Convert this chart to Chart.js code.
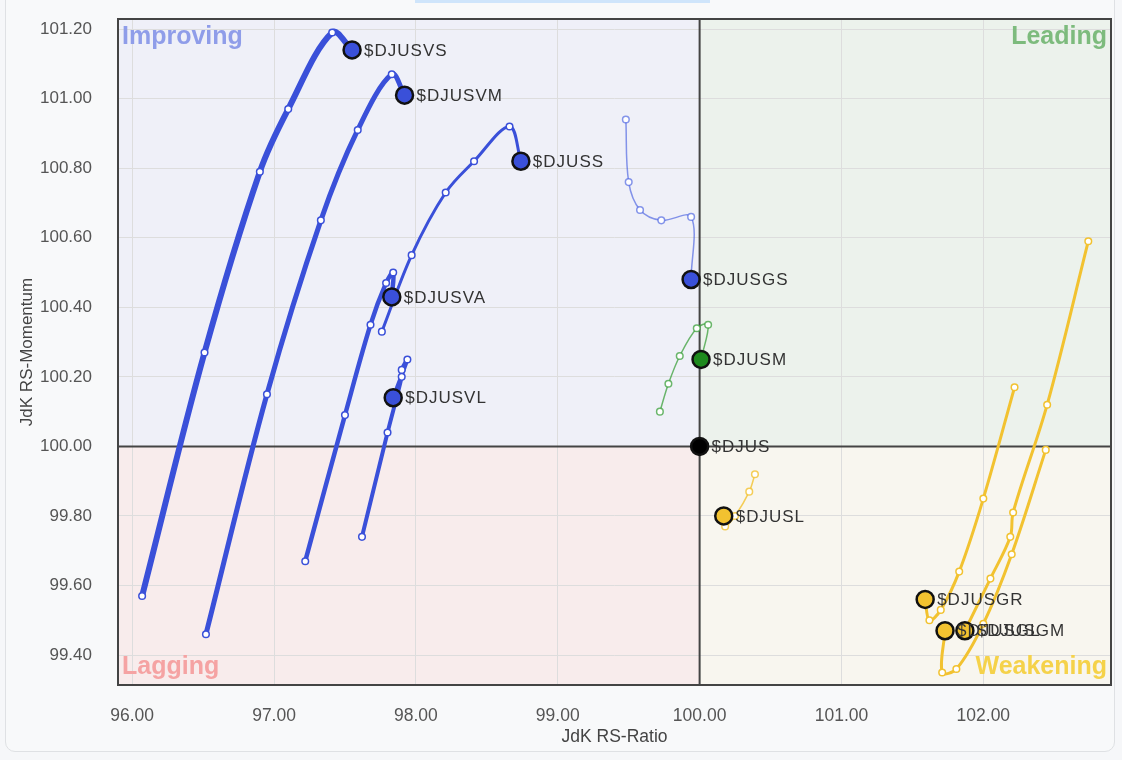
<!DOCTYPE html>
<html>
<head>
<meta charset="utf-8">
<script src="https://cdn.jsdelivr.net/npm/chart.js@4.4.1/dist/chart.umd.min.js"></script>
<style>
html,body{margin:0;padding:0;background:#f6f7f9;}
#wrap{position:relative;width:1122px;height:760px;overflow:hidden;}
#card{position:absolute;left:5px;top:-12px;width:1110px;height:764px;border:1px solid #dfe1e4;border-radius:10px;background:#f8f9fa;box-sizing:border-box;}
#tab{position:absolute;left:415px;top:0;width:295px;height:3px;background:#cfe5fb;}
canvas{position:absolute;left:0;top:0;}
</style>
</head>
<body>
<div id="wrap"><div id="card"></div><div id="tab"></div><canvas id="rrg" width="1122" height="760"></canvas></div>
<script>

/* tick labels */
let ratioTicks=[96,97,98,99,100,101,102];
let momentumTicks=[99.4,99.6,99.8,100.0,100.2,100.4,100.6,100.8,101.0,101.2];

/* trails, oldest first, last value = head */
let vsX=[96.07,96.51,96.90,97.10,97.41,97.55];
let vsY=[99.57,100.27,100.79,100.97,101.19,101.14];

let vmX=[96.52,96.95,97.33,97.59,97.83,97.92];
let vmY=[99.46,100.15,100.65,100.91,101.07,101.01];

let ssX=[97.76,97.97,98.21,98.41,98.66,98.74];
let ssY=[100.33,100.55,100.73,100.82,100.92,100.82];

let vaX=[97.22,97.50,97.68,97.79,97.84,97.83];
let vaY=[99.67,100.09,100.35,100.47,100.50,100.43];

let vlX=[97.62,97.80,97.90,97.90,97.94,97.84];
let vlY=[99.74,100.04,100.20,100.22,100.25,100.14];

let gsX=[99.48,99.50,99.58,99.73,99.94,99.94];
let gsY=[100.94,100.76,100.68,100.65,100.66,100.48];

let mX=[99.72,99.78,99.86,99.98,100.06,100.01];
let mY=[100.10,100.18,100.26,100.34,100.35,100.25];

let usX=[100.00];
let usY=[100.00];

let lX=[100.39,100.35,100.25,100.18,100.17];
let lY=[99.92,99.87,99.80,99.77,99.80];

let grX=[102.22,102.00,101.83,101.70,101.62,101.59];
let grY=[100.17,99.85,99.64,99.53,99.50,99.56];

let glX=[102.44,102.20,102.00,101.81,101.71,101.73];
let glY=[99.99,99.69,99.49,99.36,99.35,99.47];

let gmX=[102.74,102.45,102.21,102.19,102.05,101.87];
let gmY=[100.59,100.12,99.81,99.74,99.62,99.47];

let BLUE="#3a50d9";
let YELLOW="#f2c230";
let FONT="'Liberation Sans', Arial, sans-serif";

let series=[
{name:"$DJUSVS",x:vsX,y:vsY,line:BLUE,head:BLUE,w:6},
{name:"$DJUSVM",x:vmX,y:vmY,line:BLUE,head:BLUE,w:5},
{name:"$DJUSVA",x:vaX,y:vaY,line:BLUE,head:BLUE,w:4.5},
{name:"$DJUSVL",x:vlX,y:vlY,line:BLUE,head:BLUE,w:4},
{name:"$DJUSS",x:ssX,y:ssY,line:BLUE,head:BLUE,w:3},
{name:"$DJUSGS",x:gsX,y:gsY,line:"rgba(70,95,225,0.65)",head:BLUE,w:1.5},
{name:"$DJUSM",x:mX,y:mY,line:"rgba(60,160,60,0.75)",head:"#1e8a1e",w:1.5},
{name:"$DJUS",x:usX,y:usY,line:"#000",head:"#000",w:1},
{name:"$DJUSL",x:lX,y:lY,line:"rgba(242,194,48,0.8)",head:YELLOW,w:1.5},
{name:"$DJUSGR",x:grX,y:grY,line:YELLOW,head:YELLOW,w:3},
{name:"$DJUSGL",x:glX,y:glY,line:YELLOW,head:YELLOW,w:3},
{name:"$DJUSGM",x:gmX,y:gmY,line:YELLOW,head:YELLOW,w:3}
];

let datasets=series.map(function(s){
let last=s.x.length-1;
let pts=s.x.map(function(v,i){return {x:v,y:s.y[i]};});
return {
label:s.name,
data:pts,
showLine:true,
tension:0.35,
borderColor:s.line,
borderWidth:s.w,
pointRadius:pts.map(function(p,i){return i==last?8.5:3.3;}),
pointBackgroundColor:pts.map(function(p,i){return i==last?s.head:"#fff";}),
pointBorderColor:pts.map(function(p,i){return i==last?"#111":s.line;}),
pointBorderWidth:pts.map(function(p,i){return i==last?2.5:1.5;}),
pointHoverRadius:0
};
});

const rrgPlugin={
id:"rrg",
beforeDraw(chart){
let ctx=chart.ctx, a=chart.chartArea;
let cx=chart.scales.x.getPixelForValue(100);
let cy=chart.scales.y.getPixelForValue(100);
ctx.save();
ctx.fillStyle="#eff0f8"; ctx.fillRect(a.left,a.top,cx-a.left,cy-a.top);
ctx.fillStyle="#ecf2ec"; ctx.fillRect(cx,a.top,a.right-cx,cy-a.top);
ctx.fillStyle="#f8ecec"; ctx.fillRect(a.left,cy,cx-a.left,a.bottom-cy);
ctx.fillStyle="#f8f6ef"; ctx.fillRect(cx,cy,a.right-cx,a.bottom-cy);
ctx.restore();
},
beforeDatasetsDraw(chart){
let ctx=chart.ctx, a=chart.chartArea;
let cx=chart.scales.x.getPixelForValue(100);
let cy=chart.scales.y.getPixelForValue(100);
ctx.save();
ctx.font="bold 25px "+FONT;
ctx.textBaseline="middle";
ctx.fillStyle="#8f9de9"; ctx.textAlign="left"; ctx.fillText("Improving",a.left+4,a.top+18);
ctx.fillStyle="#7dbb7d"; ctx.textAlign="right"; ctx.fillText("Leading",a.right-4,a.top+18);
ctx.fillStyle="#f5a3a3"; ctx.textAlign="left"; ctx.fillText("Lagging",a.left+4,a.bottom-18);
ctx.fillStyle="#f5d24a"; ctx.textAlign="right"; ctx.fillText("Weakening",a.right-4,a.bottom-18);
ctx.strokeStyle="#444";
ctx.lineWidth=2;
ctx.beginPath();
ctx.moveTo(cx,a.top); ctx.lineTo(cx,a.bottom);
ctx.moveTo(a.left,cy); ctx.lineTo(a.right,cy);
ctx.stroke();
ctx.strokeRect(a.left,a.top,a.right-a.left,a.bottom-a.top);
ctx.restore();
},
afterDatasetsDraw(chart){
let ctx=chart.ctx;
ctx.save();
ctx.font="17px "+FONT;
ctx.letterSpacing="1px";
ctx.fillStyle="#333";
ctx.textAlign="left";
ctx.textBaseline="middle";
series.forEach(function(s){
let last=s.x.length-1;
let px=chart.scales.x.getPixelForValue(s.x[last]);
let py=chart.scales.y.getPixelForValue(s.y[last]);
ctx.fillText(s.name,px+12,py+1);
});
ctx.letterSpacing="0px";
ctx.restore();
}
};

new Chart(document.getElementById("rrg"),{
type:"scatter",
data:{datasets:datasets},
options:{
responsive:false,
animation:false,
layout:{padding:{top:19,right:9,left:0,bottom:0}},
plugins:{legend:{display:false},tooltip:{enabled:false}},
scales:{
x:{
min:95.9,max:102.9,
afterBuildTicks:function(scale){scale.ticks=ratioTicks.map(function(v){return {value:v};});},
afterFit:function(scale){scale.height=75;scale.paddingLeft=0;scale.paddingRight=0;},
ticks:{callback:function(v){return Number(v).toFixed(2);},font:{size:17.5,family:FONT},color:"#555",padding:21,maxRotation:0},
grid:{color:"#dddddd",drawTicks:false},
border:{display:false},
title:{display:true,text:"JdK RS-Ratio",font:{size:17.5,family:FONT},color:"#444",padding:{top:0,bottom:12}}
},
y:{
min:99.314,max:101.229,
afterBuildTicks:function(scale){scale.ticks=momentumTicks.map(function(v){return {value:v};});},
afterFit:function(scale){scale.width=118;scale.paddingTop=0;scale.paddingBottom=0;},
ticks:{callback:function(v){return Number(v).toFixed(2);},font:{size:17,family:FONT},color:"#555",padding:26},
grid:{color:"#dddddd",drawTicks:false},
border:{display:false},
title:{display:true,text:"JdK RS-Momentum",font:{size:17,family:FONT},color:"#444",padding:{top:17,bottom:0}}
}
}
},
plugins:[rrgPlugin]
});

</script>
</body>
</html>
